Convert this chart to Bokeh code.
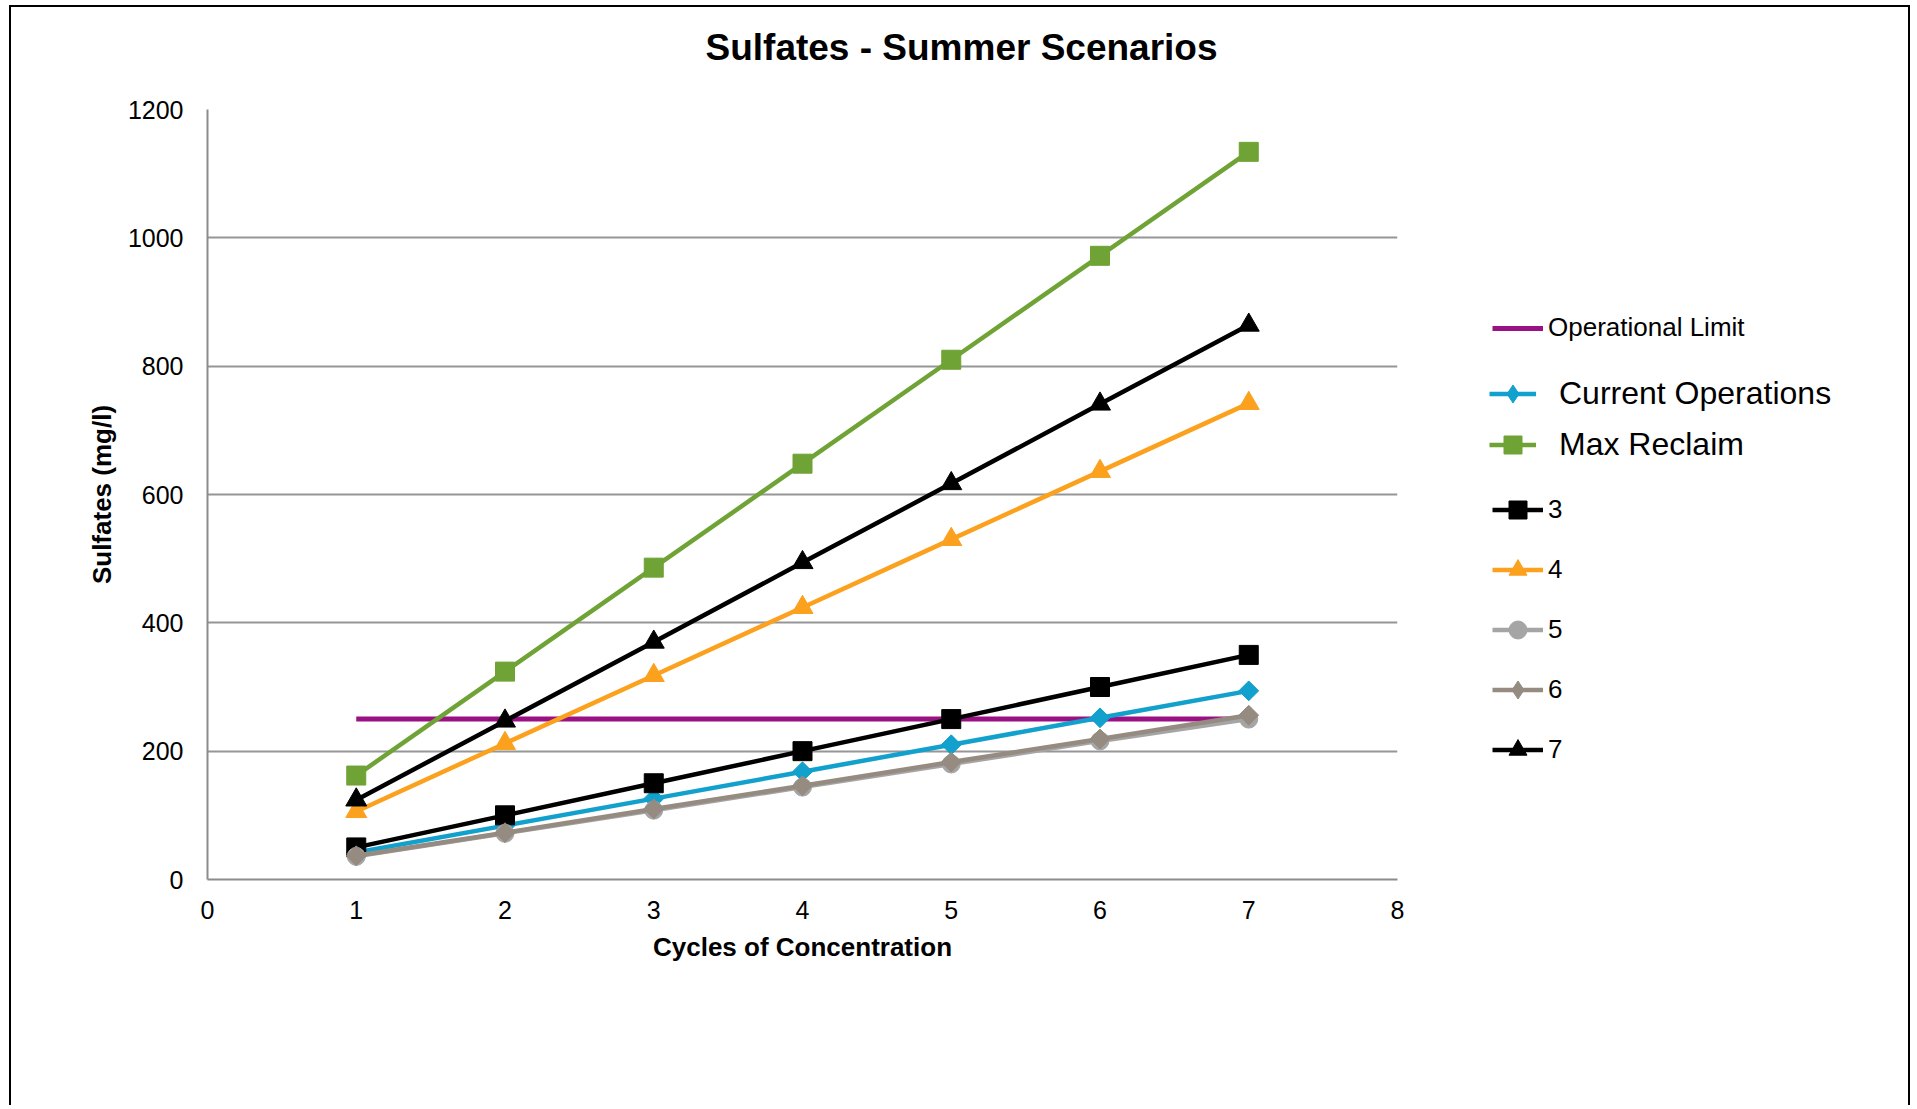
from bokeh.plotting import figure
from bokeh.models import Legend, LegendItem, Range1d, FixedTicker, Title
from bokeh.layouts import row
from bokeh.embed import file_html
from bokeh.resources import INLINE

# ---- data ----
cycles = [1, 2, 3, 4, 5, 6, 7]
operational_limit = [250, 250, 250, 250, 250, 250, 250]
current_operations = [42, 84, 126, 168, 210, 252, 294]
max_reclaim = [162, 324, 486, 648, 810, 972, 1134]
scenario_3 = [50, 100, 150, 200, 250, 300, 350]
scenario_4 = [106, 212, 318, 424, 530, 636, 742]
scenario_5 = [36, 72, 108, 144, 180, 216, 250]
scenario_6 = [37, 73, 110, 146, 183, 219, 256]
scenario_7 = [124, 247, 370, 494, 617, 741, 864]
x_ticks = [0, 1, 2, 3, 4, 5, 6, 7, 8]
y_ticks = [0, 200, 400, 600, 800, 1000, 1200]

FONT = "Liberation Sans"
DIAMOND = 0.785398

# ---- main chart ----
p = figure(width=1451, height=1100, output_backend="svg", toolbar_location=None,
           x_range=Range1d(0, 8), y_range=Range1d(0, 1200),
           min_border_left=196, min_border_top=102, min_border_right=65, min_border_bottom=228)
p.outline_line_color = None
p.background_fill_color = "white"
p.border_fill_color = "white"
p.styles = {"border-top": "2px solid black", "border-left": "2px solid black",
            "box-sizing": "border-box"}

# spacer (nearest the frame) then the real title above it
spacer = Title(text=" ", text_font=FONT, text_font_size="2px", standoff=33)
p.add_layout(spacer, "above")
title = Title(text="Sulfates - Summer Scenarios", align="left", offset=498, standoff=10,
              text_font=FONT, text_font_size="37px", text_font_style="bold",
              text_color="black")
p.add_layout(title, "above")

for ax in (p.xaxis[0], p.yaxis[0]):
    ax.major_tick_in = 0
    ax.major_tick_out = 0
    ax.minor_tick_in = 0
    ax.minor_tick_out = 0
    ax.axis_line_color = "#8c8c8c"
    ax.axis_line_width = 2
    ax.major_label_text_font = FONT
    ax.major_label_text_font_size = "25px"
    ax.major_label_text_color = "black"
    ax.axis_label_text_font = FONT
    ax.axis_label_text_font_size = "26px"
    ax.axis_label_text_font_style = "bold"
    ax.axis_label_text_color = "black"

p.xaxis.ticker = FixedTicker(ticks=x_ticks)
p.yaxis.ticker = FixedTicker(ticks=y_ticks)
p.xaxis.axis_label = "Cycles of Concentration"
p.yaxis.axis_label = "Sulfates (mg/l)"
p.xaxis.major_label_standoff = 21
p.xaxis.axis_label_standoff = 10
p.yaxis.major_label_standoff = 24
p.yaxis.axis_label_standoff = 8

p.xgrid.grid_line_color = None
p.ygrid.ticker = FixedTicker(ticks=y_ticks)
p.ygrid.grid_line_color = "#969696"
p.ygrid.grid_line_width = 2

LW = 4.5
# name, values, colour, marker, size, angle, legend marker
series = [
    ("Current Operations", current_operations, "#12A0CC", "square", 14, DIAMOND, "diamond"),
    ("Max Reclaim", max_reclaim, "#6FA335", "square", 19, 0, "square"),
    ("3", scenario_3, "#000000", "square", 19, 0, "square"),
    ("4", scenario_4, "#FBA11E", "triangle", 21, 0, "triangle"),
    ("5", scenario_5, "#A5A5A5", "circle", 18, 0, "circle"),
    ("6", scenario_6, "#958B81", "square", 14, DIAMOND, "diamond"),
    ("7", scenario_7, "#000000", "triangle", 21, 0, "triangle"),
]
OP_COLOR = "#9A1183"

p.line(cycles, operational_limit, line_color=OP_COLOR, line_width=5)
for name, vals, col, marker, size, ang, lm in series:
    p.line(cycles, vals, line_color=col, line_width=LW)
    p.scatter(cycles, vals, marker=marker, size=size, angle=ang,
              fill_color=col, line_color=col)

# ---- legend panel (keys share the series' styles; their own point lies off-range) ----
q = figure(width=450, height=1100, output_backend="svg", toolbar_location=None,
           x_range=Range1d(0, 1), y_range=Range1d(0, 1),
           x_axis_type=None, y_axis_type=None,
           min_border_left=0, min_border_right=0, min_border_top=0, min_border_bottom=0)
q.outline_line_color = None
q.grid.visible = False
q.background_fill_color = "white"
q.border_fill_color = "white"
q.styles = {"border-top": "2px solid black", "border-right": "2px solid black",
            "box-sizing": "border-box"}

off = [-5]
key = {}
key["Operational Limit"] = [q.line(off, off, line_color=OP_COLOR, line_width=5)]
for name, vals, col, marker, size, ang, lm in series:
    key[name] = [q.line(off, off, line_color=col, line_width=LW),
                 q.scatter(off, off, marker=lm, fill_color=col, line_color=col)]

def make_legend(names, loc, fsize, gh, sp, gw, standoff):
    lg = Legend(items=[LegendItem(label=n, renderers=key[n]) for n in names],
                location=loc, label_text_font=FONT, label_text_font_size=fsize,
                label_text_color="black", glyph_width=gw, glyph_height=gh, label_height=gh,
                label_standoff=standoff, spacing=sp, padding=0, margin=0,
                border_line_color=None, background_fill_alpha=0)
    q.add_layout(lg, "center")

make_legend(["Operational Limit"], (32, 536), "26px", 30, 0, 51, 5)
make_legend(["Current Operations", "Max Reclaim"], (29, 412), "32px", 45, 6, 47, 23)
make_legend(["3", "4", "5", "6", "7"], (32, 107), "26px", 45, 15, 51, 5)

layout = row(p, q, spacing=0)
layout.styles = {"margin-left": "9px", "margin-top": "5px"}

open("out.html", "w").write(file_html(layout, INLINE))
